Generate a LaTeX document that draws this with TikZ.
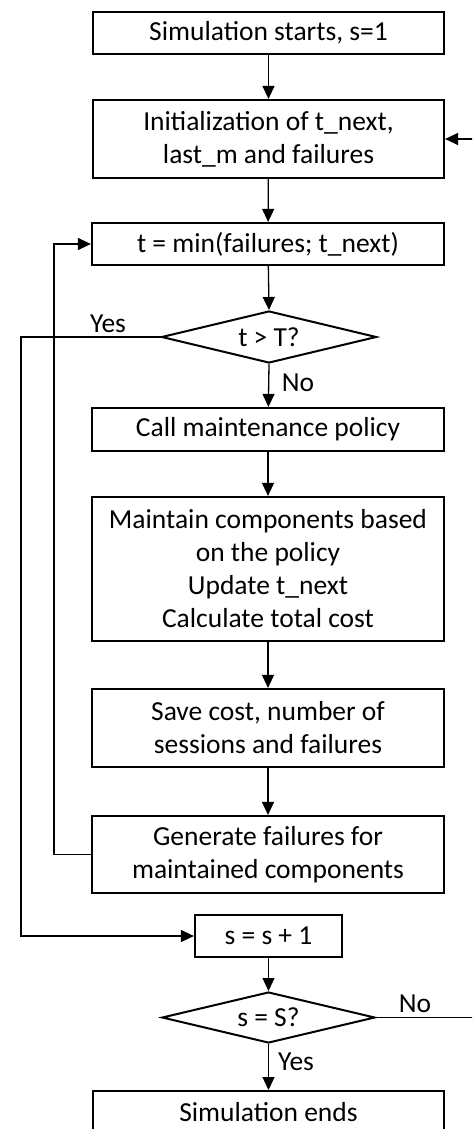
\documentclass[tikz,border=0pt]{standalone}
\usepackage{fontspec}
\setmainfont{Carlito}
\usetikzlibrary{shapes.geometric,arrows.meta}
\begin{document}
\begin{tikzpicture}[x=1pt,y=-1pt,
  every node/.style={font=\fontsize{27.5}{33}\selectfont},
  box/.style={draw, line width=2.2pt, rectangle, inner sep=0pt, align=center},
  dia/.style={draw, line width=2pt, diamond, inner sep=0pt},
  conn/.style={line width=1.3pt, -{Triangle[length=13pt,width=12pt]}},
  lbl/.style={inner sep=0pt}]
\clip (0,0) rectangle (472,1129);
\node[box, minimum width=351pt, minimum height=42pt] (start) at (268.5,33) {Simulation starts, s=1};
\node[box, minimum width=351pt, minimum height=78pt] (init) at (268.5,139) {Initialization of t\_next,\\last\_m and failures};
\node[box, minimum width=352pt, minimum height=42pt] (tmin) at (268,244) {t = min(failures; t\_next)};
\node[dia, minimum width=215pt, minimum height=52pt] (d1) at (269,337) {};
\node[lbl] (d1t) at (d1.center) {t > T?};
\node[box, minimum width=352pt, minimum height=43pt] (call) at (268,429.5) {Call maintenance policy};
\node[box, minimum width=352pt, minimum height=144pt] (maint) at (268,569) {Maintain components based\\on the policy\\Update t\_next\\Calculate total cost};
\node[box, minimum width=352pt, minimum height=78pt] (save) at (268,728) {Save cost, number of\\sessions and failures};
\node[box, minimum width=352pt, minimum height=77pt] (gen) at (268,854.5) {Generate failures for\\maintained components};
\node[box, minimum width=147pt, minimum height=42pt] (inc) at (268.5,936) {s = s + 1};
\node[dia, minimum width=213pt, minimum height=51pt] (d2) at (268.5,1017.5) {};
\node[lbl] (d2t) at (d2.center) {s = S?};
\node[box, minimum width=351pt, minimum height=44pt, anchor=north] (end) at (268.5,1090) {};
\node[lbl] (endt) at (268.5,1112) {Simulation ends};
\node[lbl] (yes1) at (108,324) {Yes};
\node[lbl] (no1) at (298,383) {No};
\node[lbl] (no2) at (415,1004) {No};
\node[lbl] (yes2) at (296,1062) {Yes};
\coordinate (lA) at (21,0);
\coordinate (lB) at (54,0);
\coordinate (rA) at (490,0);
\draw[conn] (start) -- (init);
\draw[conn] (init) -- (tmin);
\draw[conn] (tmin) -- (d1.north);
\draw[conn] (d1.south) -- (call);
\draw[conn] (call) -- (maint);
\draw[conn] (maint) -- (save);
\draw[conn] (save) -- (gen);
\draw[conn] (inc) -- (d2.north);
\draw[conn] (d2.south) -- (end);
\draw[conn] (gen.west) -- (gen.west -| lB) -- (tmin.west -| lB) -- (tmin.west);
\draw[conn] (d1.west) -- (d1.west -| lA) -- (inc.west -| lA) -- (inc.west);
\draw[conn] (d2.east) -- (d2.east -| rA) -- (init.east -| rA) -- (init.east);
\end{tikzpicture}
\end{document}
